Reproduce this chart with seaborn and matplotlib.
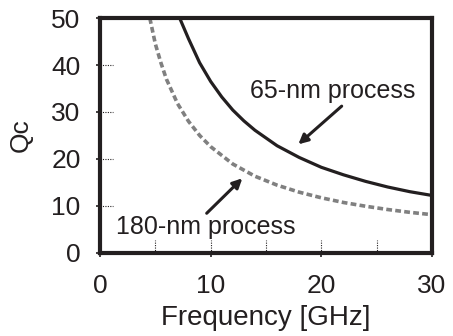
import matplotlib
matplotlib.use("Agg")
import matplotlib.pyplot as plt
import seaborn as sns
import pandas as pd

sns.set_theme(style="white")
plt.rcParams['font.family'] = ['Liberation Sans', 'DejaVu Sans']

# Values
freq_65 = [7.2, 8, 9, 10, 11, 12, 13, 14, 16, 18, 20, 22, 24, 26, 28, 30]
qc_65 = [50, 45.6, 40.5, 36.5, 33.2, 30.4, 28.1, 26.1, 22.8, 20.3, 18.2, 16.6, 15.2, 14.0, 13.0, 12.2]
freq_180 = [4.5, 5, 5.5, 6, 7, 8, 9, 10, 12, 14, 16, 18, 20, 22, 24, 26, 28, 30]
qc_180 = [50, 44.5, 40.5, 37.0, 31.8, 28.0, 25.0, 22.6, 18.9, 16.3, 14.4, 12.9, 11.7, 10.7, 9.9, 9.2, 8.6, 8.1]

x_ticks = [0, 10, 20, 30]
y_ticks = [0, 10, 20, 30, 40, 50]
x_stubs = [5, 10, 15, 20, 25]
y_stubs = [10, 20, 30, 40]

df65 = pd.DataFrame({"f": freq_65, "q": qc_65})
df180 = pd.DataFrame({"f": freq_180, "q": qc_180})

fig = plt.figure(figsize=(4.53, 3.36), dpi=100)
ax = fig.add_axes([0.2208, 0.248, 0.7328, 0.698])

sns.lineplot(data=df65, x="f", y="q", ax=ax, color="#231f20", lw=2.3, sort=False)
sns.lineplot(data=df180, x="f", y="q", ax=ax, color="#808080", lw=2.6, sort=False)
ax.lines[-1].set_dashes([1.6, 0.9])
ax.lines[-1].set_dash_capstyle("butt")

ax.set_xlim(0, 30)
ax.set_ylim(0, 50)
ax.set_xticks(x_ticks)
ax.set_yticks(y_ticks)
ax.tick_params(axis="both", which="major", direction="out", length=3, width=1.2,
               color="#231f20", labelsize=19, labelcolor="#231f20", bottom=True, left=True)
ax.tick_params(axis="y", pad=11)
ax.tick_params(axis="x", pad=12)

# inner dotted stubs
ax.vlines(x_stubs, 0, 2.6, colors="#231f20", linestyles=(0, (1, 1.2)), lw=0.8)
ax.hlines(y_stubs, 0, 1.2, colors="#231f20", linestyles=(0, (1, 1.2)), lw=0.8)

for s in ax.spines.values():
    s.set_linewidth(3)
    s.set_color("#231f20")

ax.set_xlabel("Frequency [GHz]", fontsize=20, color="#231f20")
ax.set_ylabel("Qc", fontsize=19, color="#231f20")
ax.xaxis.set_label_coords(0.5, -0.222)
ax.yaxis.set_label_coords(-0.202, 0.5)

ax.annotate("65-nm process", xy=(17.92, 23.1), xytext=(21.0, 32.9),
            ha="center", va="baseline", fontsize=18, color="#231f20")
ax.annotate("", xy=(17.92, 23.1), xytext=(21.84, 31.24),
            arrowprops=dict(arrowstyle="-|>", lw=2.2, color="#231f20", mutation_scale=14,
                            shrinkA=0, shrinkB=0))
ax.annotate("180-nm process", xy=(12.86, 15.85), xytext=(9.56, 4.0),
            ha="center", va="baseline", fontsize=18, color="#231f20")
ax.annotate("", xy=(12.86, 15.85), xytext=(9.64, 8.4),
            arrowprops=dict(arrowstyle="-|>", lw=2.2, color="#231f20", mutation_scale=14,
                            shrinkA=0, shrinkB=0))

fig.savefig("out.png", dpi=100)
